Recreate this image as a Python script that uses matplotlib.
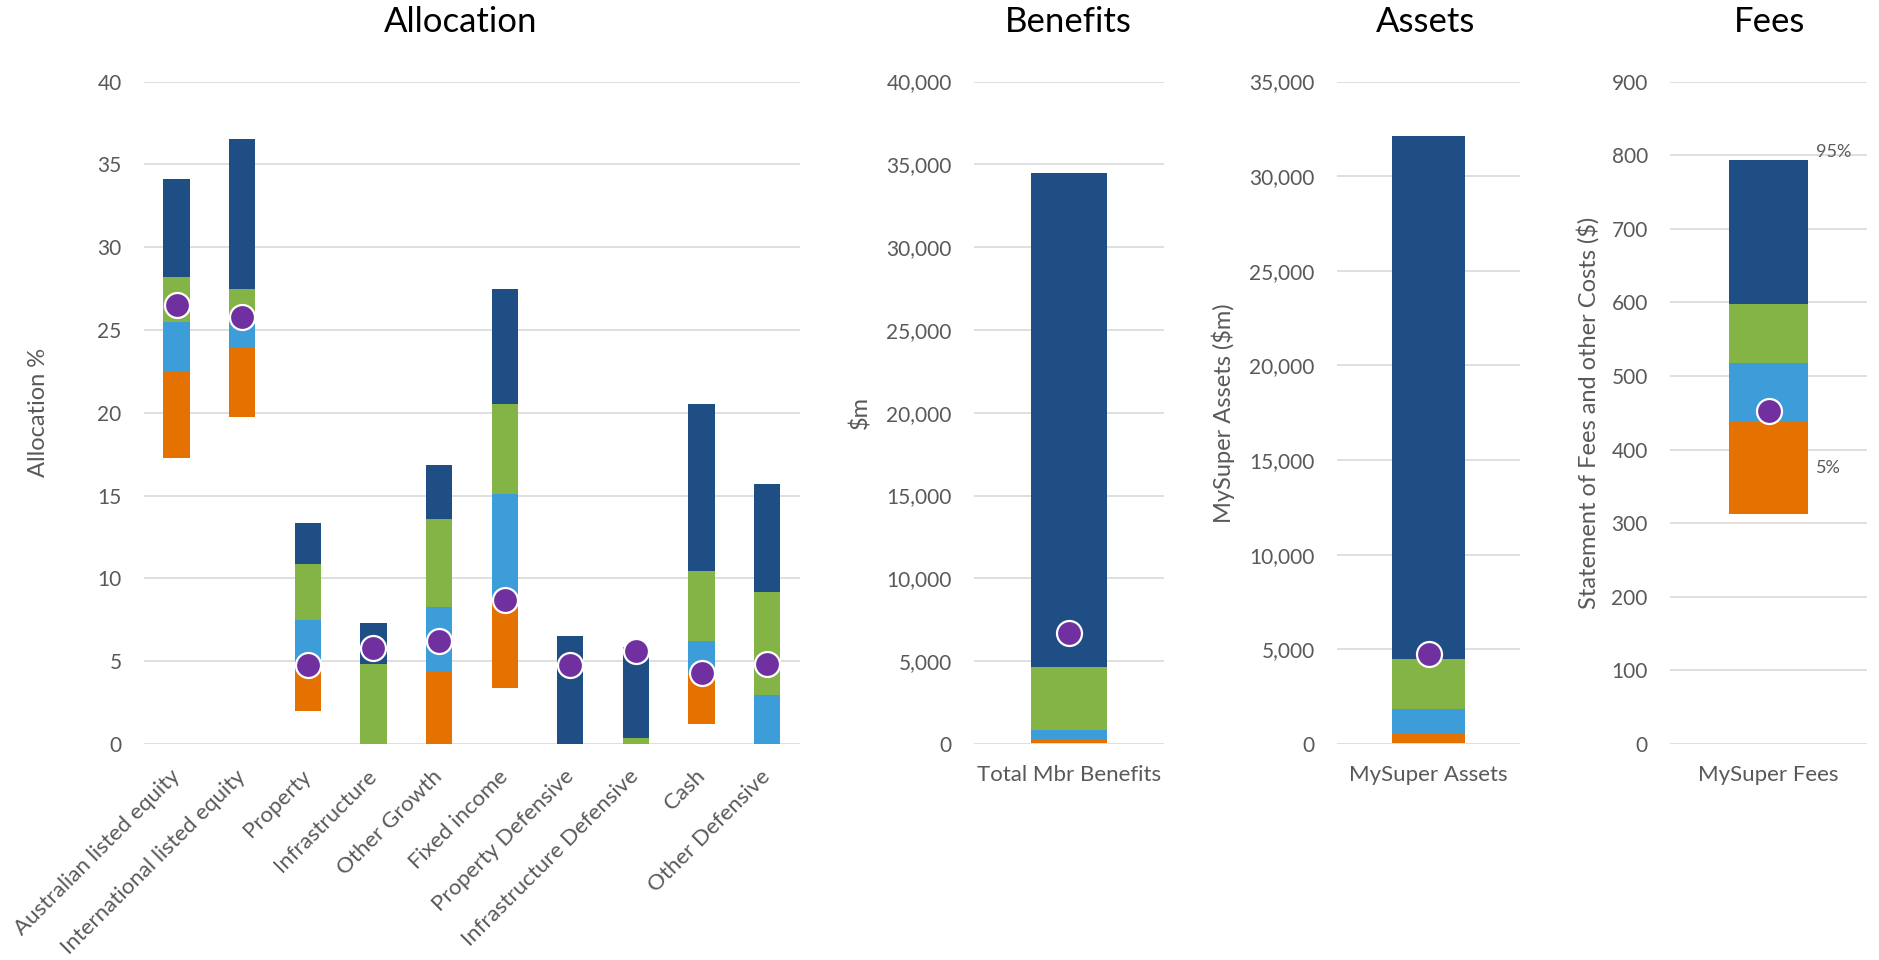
import numpy as np
import matplotlib
matplotlib.use("Agg")
import matplotlib.pyplot as plt
from matplotlib.ticker import FuncFormatter

plt.rcParams['font.family'] = ['Lato', 'DejaVu Sans']

# --- data -------------------------------------------------------------
alloc_categories = ["Australian listed equity", "International listed equity", "Property",
                    "Infrastructure", "Other Growth", "Fixed income", "Property Defensive",
                    "Infrastructure Defensive", "Cash", "Other Defensive"]
# band edges, bottom to top
alloc_lo = [17.27, 19.73, 2.01, 0.0, 0.0, 3.39, 0.0, 0.0, 1.20, 0.0]
alloc_q1 = [22.49, 23.99, 4.41, 0.0, 4.32, 8.60, 0.0, 0.0, 4.26, 0.0]
alloc_q2 = [25.50, 25.40, 7.51, 0.0, 8.29, 15.08, 0.0, 0.0, 6.22, 2.97]
alloc_q3 = [28.20, 27.48, 10.87, 4.86, 13.57, 20.51, 0.0, 0.39, 10.42, 9.16]
alloc_hi = [34.14, 36.52, 13.36, 7.30, 16.82, 27.50, 6.55, 5.86, 20.54, 15.68]
alloc_fund = [26.49, 25.80, 4.80, 5.80, 6.19, 8.68, 4.80, 5.59, 4.26, 4.86]

benefits_cat = ["Total Mbr Benefits"]
benefits_edges = [60, 250, 834, 4633, 34500]
benefits_fund = [6672]

assets_cat = ["MySuper Assets"]
assets_edges = [54, 567, 1865, 4513, 32135]
assets_fund = [4757]

fees_cat = ["MySuper Fees"]
fees_edges = [312, 437, 518, 598, 794]
fees_fund = [453]

# --- style -------------------------------------------------------------
BAND_COLORS = ["#E57200", "#3D9DD9", "#84B446", "#1F4E84"]
DOT_COLOR = "#7030A0"
GRID = "#D9D9D9"
TXT = "#595959"
W, H = 1879, 960


def px_axes(fig, x0, x1, y0=81.5, y1=744):
    return fig.add_axes([x0 / W, 1 - y1 / H, (x1 - x0) / W, (y1 - y0) / H])


def draw_bands(ax, cats, edges, fund):
    x = np.arange(len(cats))
    edges = np.asarray(edges, dtype=float)
    for i, c in enumerate(BAND_COLORS):
        ax.bar(x, edges[i + 1] - edges[i], bottom=edges[i], width=0.4,
               color=c, zorder=3)
    ax.plot(x, fund, 'o', ms=18, color=DOT_COLOR, mec='white', mew=1.6,
            zorder=5, clip_on=False)
    ax.set_xlim(-0.5, len(cats) - 0.5)
    ax.set_xticks(x)
    for s in ax.spines.values():
        s.set_visible(False)
    ax.grid(axis='y', color=GRID, lw=1.2, zorder=0)
    ax.tick_params(length=0, colors=TXT, labelsize=15)
    ax.tick_params(axis='x', labelsize=16)
    ax.tick_params(axis='y', pad=16)


fig = plt.figure(figsize=(W / 100, H / 100), dpi=100)

# Allocation
ax1 = px_axes(fig, 143.8, 800)
edges = np.vstack([alloc_lo, alloc_q1, alloc_q2, alloc_q3, alloc_hi])
draw_bands(ax1, alloc_categories, edges, alloc_fund)
ax1.set_ylim(0, 40)
ax1.set_yticks(np.arange(0, 41, 5))
ax1.set_xticklabels(alloc_categories, rotation=45, ha='right', va='center',
                    rotation_mode='anchor')
ax1.tick_params(axis='x', pad=21)
ax1.set_ylabel("Allocation %", fontsize=17, color=TXT)
ax1.yaxis.set_label_coords(-0.1445, 0.5)

comma = FuncFormatter(lambda v, p: f"{v:,.0f}")

# Benefits
ax2 = px_axes(fig, 974, 1164)
draw_bands(ax2, benefits_cat, np.array(benefits_edges)[:, None], benefits_fund)
ax2.set_ylim(0, 40000)
ax2.set_yticks(np.arange(0, 40001, 5000))
ax2.yaxis.set_major_formatter(comma)
ax2.set_xticklabels(benefits_cat)
ax2.tick_params(axis='x', pad=15)
ax2.set_ylabel("$m", fontsize=17, color=TXT)
ax2.yaxis.set_label_coords(-0.542, 0.5)

# Assets
ax3 = px_axes(fig, 1337, 1520)
draw_bands(ax3, assets_cat, np.array(assets_edges)[:, None], assets_fund)
ax3.set_ylim(0, 35000)
ax3.set_yticks(np.arange(0, 35001, 5000))
ax3.yaxis.set_major_formatter(comma)
ax3.set_xticklabels(assets_cat)
ax3.tick_params(axis='x', pad=15)
ax3.set_ylabel("MySuper Assets ($m)", fontsize=17, color=TXT)
ax3.yaxis.set_label_coords(-0.555, 0.5)

# Fees
ax4 = px_axes(fig, 1670, 1867)
draw_bands(ax4, fees_cat, np.array(fees_edges)[:, None], fees_fund)
ax4.set_ylim(0, 900)
ax4.set_yticks(np.arange(0, 901, 100))
ax4.set_xticklabels(fees_cat)
ax4.tick_params(axis='x', pad=15)
ax4.set_ylabel("Statement of Fees and other Costs ($)", fontsize=17, color=TXT)
ax4.yaxis.set_label_coords(-0.355, 0.5)
ax4.annotate("95%", (0.2, fees_edges[4]), xytext=(6, 0), textcoords='offset points',
             ha='left', va='bottom', fontsize=13, color=TXT)
ax4.annotate("5%", (0.2, (fees_edges[0] + fees_edges[1]) / 2), xytext=(6, 0),
             textcoords='offset points', ha='left', va='center', fontsize=13, color=TXT)

# panel titles
for name, xc in [("Allocation", 461), ("Benefits", 1068), ("Assets", 1426), ("Fees", 1770)]:
    fig.text(xc / W, 1 - 21.6 / H, name, ha='center', va='center', fontsize=25,
             color='black')

fig.savefig("out.png", dpi=100, facecolor='white')
